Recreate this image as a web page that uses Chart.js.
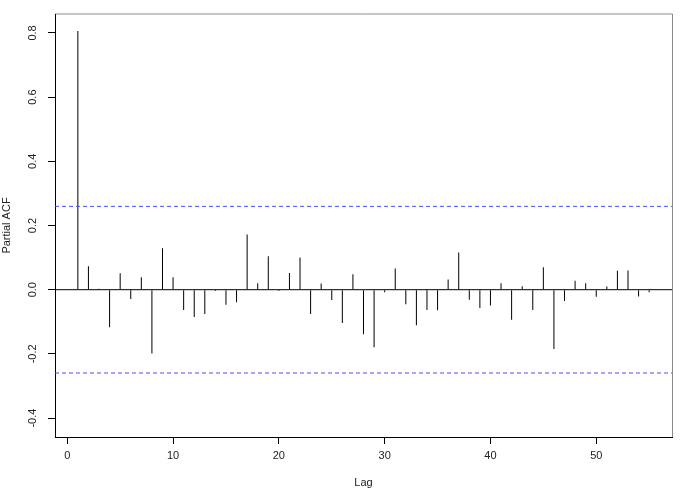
<!DOCTYPE html>
<html>
<head>
<meta charset="utf-8">
<script src="https://cdn.jsdelivr.net/npm/chart.js@4.4.1/dist/chart.umd.min.js"></script>
<style>
  html, body { margin: 0; padding: 0; background: #ffffff; }
  #wrap { width: 700px; height: 490px; }
</style>
</head>
<body>
<div id="wrap"><canvas id="c" width="700" height="490"></canvas></div>
<script>
// ---- data ----
const lags = [1,2,3,4,5,6,7,8,9,10,11,12,13,14,15,16,17,18,19,20,21,22,23,24,25,26,27,28,29,30,31,32,33,34,35,36,37,38,39,40,41,42,43,44,45,46,47,48,49,50,51,52,53,54,55];
const pacfValues = [0.806, 0.073, 0.003, -0.117, 0.051, -0.029, 0.039, -0.199, 0.129, 0.039,
                    -0.063, -0.085, -0.076, -0.004, -0.047, -0.039, 0.172, 0.020, 0.104, -0.004,
                    0.052, 0.100, -0.076, 0.019, -0.032, -0.104, 0.048, -0.139, -0.179, -0.008,
                    0.066, -0.045, -0.111, -0.063, -0.064, 0.032, 0.116, -0.031, -0.057, -0.049,
                    0.020, -0.094, 0.011, -0.063, 0.070, -0.185, -0.035, 0.028, 0.020, -0.022,
                    0.010, 0.059, 0.060, -0.021, -0.008];
const ciBound = 0.2596;
const xTickValues = [0, 10, 20, 30, 40, 50];
const yTickValues = [-0.4, -0.2, 0.0, 0.2, 0.4, 0.6, 0.8];
const xLimits = [-1.16, 57.16];
const yLimits = [-0.459, 0.859];
const xTitle = 'Lag';
const yTitle = 'Partial ACF';

const FONT = '"Liberation Sans Narrow", "Liberation Sans", Arial, sans-serif';

const barData = lags.map((l, i) => ({ x: l, y: pacfValues[i] }));
const hLine = v => [{ x: xLimits[0], y: v }, { x: xLimits[1], y: v }];

const boxPlugin = {
  id: 'box',
  afterDraw(chart) {
    const { ctx, chartArea: a } = chart;
    ctx.save();
    ctx.strokeStyle = 'rgba(0,0,0,0.45)';
    ctx.lineWidth = 1;
    ctx.beginPath();
    ctx.moveTo(a.left, a.top);
    ctx.lineTo(a.right + 0.5, a.top);
    ctx.lineTo(a.right + 0.5, a.bottom);
    ctx.stroke();
    ctx.restore();
  }
};

new Chart(document.getElementById('c'), {
  type: 'bar',
  data: {
    datasets: [
      {
        type: 'bar',
        data: barData,
        backgroundColor: '#000000',
        borderWidth: 0,
        barThickness: 1,
        inflateAmount: 0,
        order: 2
      },
      {
        type: 'line',
        data: hLine(0),
        borderColor: '#000000',
        borderWidth: 1,
        pointRadius: 0,
        order: 1
      },
      {
        type: 'line',
        data: hLine(ciBound),
        borderColor: '#4a4aff',
        borderWidth: 1,
        borderDash: [4, 3],
        pointRadius: 0,
        order: 0
      },
      {
        type: 'line',
        data: hLine(-ciBound),
        borderColor: '#4a4aff',
        borderWidth: 1,
        borderDash: [4, 3],
        pointRadius: 0,
        order: 0
      }
    ]
  },
  options: {
    responsive: false,
    animation: false,
    devicePixelRatio: 1,
    layout: { padding: { top: 14, right: 28, left: 0, bottom: 0 } },
    plugins: {
      legend: { display: false },
      tooltip: { enabled: false },
      title: { display: false }
    },
    scales: {
      x: {
        type: 'linear',
        offset: false,
        min: xLimits[0],
        max: xLimits[1],
        afterBuildTicks: s => { s.ticks = xTickValues.map(v => ({ value: v })); },
        afterFit: s => { s.height = 53; },
        grid: { display: true, offset: false, drawOnChartArea: false, drawTicks: true, tickLength: 7, color: '#000000', lineWidth: 1 },
        border: { display: true, color: '#000000', width: 1 },
        ticks: {
          color: '#222222',
          font: { family: FONT, size: 11 },
          padding: 5,
          maxRotation: 0,
          minRotation: 0,
          callback: v => String(v)
        },
        title: {
          display: true,
          text: xTitle,
          color: '#222222',
          font: { family: FONT, size: 11 },
          padding: { top: 0, bottom: 0 }
        }
      },
      y: {
        type: 'linear',
        min: yLimits[0],
        max: yLimits[1],
        afterBuildTicks: s => { s.ticks = yTickValues.map(v => ({ value: v })); },
        afterFit: s => { s.width = 55; },
        grid: { display: true, drawOnChartArea: false, drawTicks: true, tickLength: 7, color: '#000000', lineWidth: 1 },
        border: { display: true, color: '#000000', width: 1 },
        ticks: {
          color: '#222222',
          font: { family: FONT, size: 11 },
          padding: 6,
          minRotation: 90,
          maxRotation: 90,
          crossAlign: 'center',
          callback: v => Number(v).toFixed(1)
        },
        title: {
          display: true,
          text: yTitle,
          color: '#222222',
          font: { family: FONT, size: 11 },
          padding: { top: 0, bottom: 0 }
        }
      }
    }
  },
  plugins: [boxPlugin]
});
</script>
</body>
</html>
